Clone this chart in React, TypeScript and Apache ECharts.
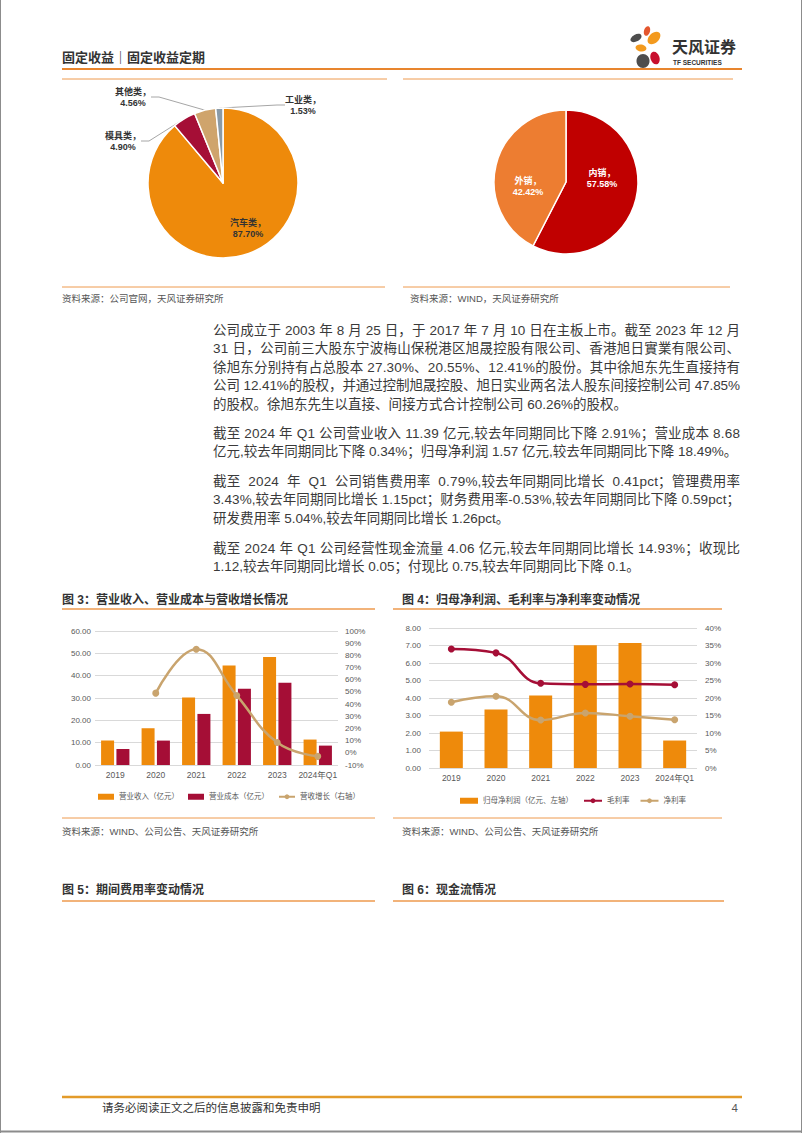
import React, { useEffect, useRef } from "react";
import * as echarts from "echarts";

const W = 802;
const H = 1133;
const FONT = '"Liberation Sans", "Noto Sans CJK SC", sans-serif';

// ---------- data ----------
const productNames = ["汽车类", "模具类", "其他类", "工业类"];
const productShares = [87.7, 4.9, 4.56, 1.53];
const regionNames = ["内销", "外销"];
const regionShares = [57.58, 42.42];

const years = ["2019", "2020", "2021", "2022", "2023", "2024年Q1"];
const revenue = [10.97, 16.46, 30.24, 44.54, 48.34, 11.39];
const cost = [7.16, 10.93, 22.87, 34.1, 36.8, 8.68];
const revenueGrowth: (number | null)[] = [null, 49, 85, 47, 8.5, -2.91];

const netProfit = [2.08, 3.35, 4.14, 7.01, 7.15, 1.57];
const grossMargin = [34.0, 32.9, 24.2, 23.9, 24.0, 23.8];
const netMargin = [18.8, 20.5, 13.7, 15.7, 14.8, 13.8];

const paragraphs: string[][] = [
  [
    "公司成立于 2003 年 8 月 25 日，于 2017 年 7 月 10 日在主板上市。截至 2023 年 12 月",
    "31 日，公司前三大股东宁波梅山保税港区旭晟控股有限公司、香港旭日實業有限公司、",
    "徐旭东分别持有占总股本 27.30%、20.55%、12.41%的股份。其中徐旭东先生直接持有",
    "公司 12.41%的股权，并通过控制旭晟控股、旭日实业两名法人股东间接控制公司 47.85%",
    "的股权。徐旭东先生以直接、间接方式合计控制公司 60.26%的股权。",
  ],
  [
    "截至 2024 年 Q1 公司营业收入 11.39 亿元,较去年同期同比下降 2.91%；营业成本 8.68",
    "亿元,较去年同期同比下降 0.34%；归母净利润 1.57 亿元,较去年同期同比下降 18.49%。",
  ],
  [
    "截至  2024  年  Q1  公司销售费用率  0.79%,较去年同期同比增长  0.41pct；管理费用率",
    "3.43%,较去年同期同比增长 1.15pct；财务费用率-0.53%,较去年同期同比下降 0.59pct；",
    "研发费用率 5.04%,较去年同期同比增长 1.26pct。",
  ],
  [
    "截至 2024 年 Q1 公司经营性现金流量 4.06 亿元,较去年同期同比增长 14.93%；收现比",
    "1.12,较去年同期同比增长 0.05；付现比 0.75,较去年同期同比下降 0.1。",
  ],
];

// ---------- colours ----------
const ORANGE = "#EE8A0B";
const CRIMSON = "#A50E36";
const TAN = "#C9A46E";
const LINE_ORANGE = "#EE9A4E";
const TEXT = "#3a3a3a";
const AXIS_TXT = "#595959";

const PARA_X = 213;
const PARA_W = 527;
const justified = new Set<string>();
paragraphs.forEach((lines) => lines.slice(0, -1).forEach((l) => justified.add(l)));

function txt(x: number, y: number, text: string, size: number, opts: any = {}) {
  return {
    type: "text",
    x,
    y,
    silent: true,
    style: {
      text,
      fill: opts.fill || TEXT,
      font: `${opts.weight || "normal"} ${size}px ${FONT}`,
      align: opts.align || "left",
      verticalAlign: "middle",
      textAlign: opts.align || "left",
      textVerticalAlign: "middle",
    },
  };
}
function hline(x1: number, x2: number, y: number, color: string, w: number) {
  return {
    type: "line",
    silent: true,
    shape: { x1, y1: y, x2, y2: y },
    style: { stroke: color, lineWidth: w },
  };
}
function petal(x: number, y: number, rx: number, ry: number, rot: number, color: string) {
  return {
    type: "ellipse",
    x,
    y,
    rotation: rot,
    silent: true,
    shape: { cx: 0, cy: 0, rx, ry },
    style: { fill: color },
  };
}

const pieLabelPos1: Record<number, [number, number]> = {
  0: [248, 228],
  1: [123, 141],
  2: [133, 97],
  3: [303, 105],
};
const pieLabelPos2: Record<number, [number, number]> = {
  0: [602, 178],
  1: [528, 186],
};

function buildGraphic() {
  const els: any[] = [];
  // page frame
  els.push({ type: "line", silent: true, shape: { x1: 0.5, y1: 0, x2: 0.5, y2: H }, style: { stroke: "#8c8c8c", lineWidth: 1 } });
  els.push({ type: "line", silent: true, shape: { x1: W - 0.5, y1: 0, x2: W - 0.5, y2: H }, style: { stroke: "#8c8c8c", lineWidth: 1 } });
  els.push(hline(0, W, H - 1.5, "#8c8c8c", 2));
  // header
  els.push(txt(62, 57, "固定收益｜固定收益定期", 13, { weight: "bold", fill: "#333" }));
  els.push(hline(62, 742, 69, "#E8852E", 2));
  // logo
  els.push(petal(647, 31, 3, 5, -0.3, "#E4572E"));
  els.push(petal(654, 38, 5, 7.5, -0.8, "#F39A1E"));
  els.push(petal(636, 38, 6, 3.5, 0.5, "#4D4D4D"));
  els.push(petal(641, 48, 5.5, 3.5, -0.2, "#F39A1E"));
  els.push(petal(643, 61, 6.5, 7, 0, "#4D4D4D"));
  els.push(petal(655, 58, 4.5, 6.5, 0.3, "#C8102E"));
  els.push(txt(672, 47, "天风证券", 16, { weight: "bold", fill: "#333" }));
  els.push(txt(673, 62, "TF SECURITIES", 6.5, { weight: "bold", fill: "#333" }));
  // section lines for pies
  els.push(hline(62, 387, 79, LINE_ORANGE, 1));
  els.push(hline(403, 733, 79, LINE_ORANGE, 1));
  els.push(hline(62, 385, 287, LINE_ORANGE, 1));
  els.push(hline(403, 730, 287, LINE_ORANGE, 1));
  els.push(txt(62, 298, "资料来源：公司官网，天风证券研究所", 9.5, { fill: "#555" }));
  els.push(txt(410, 298, "资料来源：WIND，天风证券研究所", 9.5, { fill: "#555" }));
  // paragraphs
  const starts = [330, 433, 481, 548];
  paragraphs.forEach((lines, pi) => {
    lines.forEach((line, li) => {
      els.push(txt(PARA_X, starts[pi] + li * 18.5, line, 13.5, { fill: TEXT }));
    });
  });
  // figure 3 & 4 titles
  els.push(txt(62, 600, "图 3：营业收入、营业成本与营收增长情况", 12, { weight: "bold", fill: "#333" }));
  els.push(hline(62, 375, 609, LINE_ORANGE, 1.5));
  els.push(txt(402, 600, "图 4：归母净利润、毛利率与净利率变动情况", 12, { weight: "bold", fill: "#333" }));
  els.push(hline(393, 722, 609, LINE_ORANGE, 1.5));
  els.push(hline(62, 375, 818, LINE_ORANGE, 1));
  els.push(hline(393, 722, 818, LINE_ORANGE, 1));
  els.push(txt(62, 831, "资料来源：WIND、公司公告、天风证券研究所", 9.5, { fill: "#555" }));
  els.push(txt(402, 831, "资料来源：WIND、公司公告、天风证券研究所", 9.5, { fill: "#555" }));
  // figure 5 & 6 titles
  els.push(txt(62, 890, "图 5：期间费用率变动情况", 12, { weight: "bold", fill: "#333" }));
  els.push(hline(62, 375, 901, LINE_ORANGE, 1.5));
  els.push(txt(402, 890, "图 6：现金流情况", 12, { weight: "bold", fill: "#333" }));
  els.push(hline(393, 724, 901, LINE_ORANGE, 1.5));
  // footer
  els.push(hline(62, 742, 1097, "#E39B2A", 2.5));
  els.push(txt(102, 1108, "请务必阅读正文之后的信息披露和免责申明", 11.5, { fill: "#333" }));
  els.push(txt(738, 1108, "4", 11.5, { fill: "#555", align: "right" }));
  return els;
}

const productColors = [ORANGE, CRIMSON, "#CFA46C", "#8A9AA6"];
const regionColors = ["#C00000", "#ED7D31"];

function buildOption(): any {
  const axisLabelStyle = { color: AXIS_TXT, fontSize: 8, fontFamily: FONT };
  return {
    animation: false,
    backgroundColor: "#fff",
    textStyle: { fontFamily: FONT },
    graphic: { elements: buildGraphic() },
    legend: [
      {
        left: 93,
        top: 788,
        itemWidth: 16,
        itemHeight: 6,
        itemGap: 9,
        selectedMode: false,
        textStyle: { fontSize: 7.5, color: AXIS_TXT, fontFamily: FONT },
        data: [
          { name: "营业收入（亿元）", icon: "rect" },
          { name: "营业成本（亿元）", icon: "rect" },
          { name: "营收增长（右轴）" },
        ],
      },
      {
        left: 455,
        top: 792,
        itemWidth: 18,
        itemHeight: 6,
        itemGap: 10,
        selectedMode: false,
        textStyle: { fontSize: 7.5, color: AXIS_TXT, fontFamily: FONT },
        data: [
          { name: "归母净利润（亿元、左轴）", icon: "rect" },
          { name: "毛利率" },
          { name: "净利率" },
        ],
      },
    ],
    grid: [
      { left: 95, right: W - 338, top: 631, bottom: H - 765 },
      { left: 429, right: W - 697, top: 628, bottom: H - 768 },
    ],
    xAxis: [
      {
        type: "category",
        gridIndex: 0,
        data: years,
        axisLine: { show: false },
        axisTick: { show: false },
        axisLabel: { ...axisLabelStyle, fontSize: 8.5, margin: 6, interval: 0 },
      },
      {
        type: "category",
        gridIndex: 1,
        data: years,
        axisLine: { show: false },
        axisTick: { show: false },
        axisLabel: { ...axisLabelStyle, fontSize: 8.5, margin: 6, interval: 0 },
      },
    ],
    yAxis: [
      {
        type: "value",
        gridIndex: 0,
        min: 0,
        max: 60,
        interval: 10,
        axisLine: { show: false },
        axisTick: { show: false },
        splitLine: { lineStyle: { color: "#D9D9D9", width: 1 } },
        axisLabel: { ...axisLabelStyle, margin: 4, formatter: (v: number) => v.toFixed(2) },
      },
      {
        type: "value",
        gridIndex: 0,
        min: -10,
        max: 100,
        interval: 10,
        position: "right",
        axisLine: { show: false },
        axisTick: { show: false },
        splitLine: { show: false },
        axisLabel: { ...axisLabelStyle, margin: 7, formatter: (v: number) => `${v}%` },
      },
      {
        type: "value",
        gridIndex: 1,
        min: 0,
        max: 8,
        interval: 1,
        axisLine: { show: false },
        axisTick: { show: false },
        splitLine: { lineStyle: { color: "#D9D9D9", width: 1 } },
        axisLabel: { ...axisLabelStyle, margin: 8, formatter: (v: number) => v.toFixed(2) },
      },
      {
        type: "value",
        gridIndex: 1,
        min: 0,
        max: 40,
        interval: 5,
        position: "right",
        axisLine: { show: false },
        axisTick: { show: false },
        splitLine: { show: false },
        axisLabel: { ...axisLabelStyle, margin: 8, formatter: (v: number) => `${v}%` },
      },
    ],
    series: [
      {
        type: "bar",
        name: "营业收入（亿元）",
        xAxisIndex: 0,
        yAxisIndex: 0,
        data: revenue,
        barWidth: 13,
        barGap: "18%",
        itemStyle: { color: ORANGE },
      },
      {
        type: "bar",
        name: "营业成本（亿元）",
        xAxisIndex: 0,
        yAxisIndex: 0,
        data: cost,
        barWidth: 13,
        barGap: "18%",
        itemStyle: { color: CRIMSON },
      },
      {
        type: "line",
        name: "营收增长（右轴）",
        xAxisIndex: 0,
        yAxisIndex: 1,
        data: revenueGrowth,
        smooth: 0.45,
        connectNulls: true,
        symbol: "circle",
        symbolSize: 7,
        lineStyle: { color: TAN, width: 2.5 },
        itemStyle: { color: TAN },
      },
      {
        type: "bar",
        name: "归母净利润（亿元、左轴）",
        xAxisIndex: 1,
        yAxisIndex: 2,
        data: netProfit,
        barWidth: 23,
        itemStyle: { color: ORANGE },
      },
      {
        type: "line",
        name: "毛利率",
        xAxisIndex: 1,
        yAxisIndex: 3,
        data: grossMargin,
        smooth: 0.45,
        symbol: "circle",
        symbolSize: 7,
        lineStyle: { color: CRIMSON, width: 2.5 },
        itemStyle: { color: CRIMSON },
      },
      {
        type: "line",
        name: "净利率",
        xAxisIndex: 1,
        yAxisIndex: 3,
        data: netMargin,
        smooth: 0.45,
        symbol: "circle",
        symbolSize: 7,
        lineStyle: { color: TAN, width: 2.5 },
        itemStyle: { color: TAN },
      },
      {
        type: "pie",
        center: [223, 183],
        radius: 75,
        startAngle: 90,
        clockwise: true,
        avoidLabelOverlap: false,
        itemStyle: { borderColor: "#fff", borderWidth: 1.5 },
        label: {
          show: true,
          position: "outside",
          fontSize: 9,
          fontWeight: "bold",
          lineHeight: 11,
          color: "#333",
          align: "center",
          fontFamily: FONT,
          formatter: (p: any) => `${p.name}，\n${Number(p.value).toFixed(2)}%`,
        },
        labelLine: { show: true, length: 8, length2: 8, lineStyle: { color: "#A6A6A6", width: 1 } },
        labelLayout: (p: any) => {
          const pos = pieLabelPos1[p.dataIndex];
          return pos ? { x: pos[0], y: pos[1], align: "center", verticalAlign: "middle" } : {};
        },
        data: productNames.map((n, i) => ({
          name: n,
          value: productShares[i],
          itemStyle: { color: productColors[i] },
          label: i === 0 ? { position: "inside" } : undefined,
          labelLine: i === 0 ? { show: false } : undefined,
        })),
      },
      {
        type: "pie",
        center: [566, 182],
        radius: 72,
        startAngle: 90,
        clockwise: true,
        avoidLabelOverlap: false,
        itemStyle: { borderColor: "#fff", borderWidth: 1.5 },
        label: {
          show: true,
          position: "inside",
          fontSize: 9,
          fontWeight: "bold",
          lineHeight: 11,
          color: "#fff",
          align: "center",
          fontFamily: FONT,
          formatter: (p: any) => `${p.name}，\n${Number(p.value).toFixed(2)}%`,
        },
        labelLine: { show: false },
        labelLayout: (p: any) => {
          const pos = pieLabelPos2[p.dataIndex];
          return pos ? { x: pos[0], y: pos[1], align: "center", verticalAlign: "middle" } : {};
        },
        data: regionNames.map((n, i) => ({
          name: n,
          value: regionShares[i],
          itemStyle: { color: regionColors[i] },
        })),
      },
    ],
  };
}

function justifyParagraphs(root: HTMLElement) {
  const nodes = root.querySelectorAll("text");
  nodes.forEach((node) => {
    const content = node.textContent || "";
    if (justified.has(content)) {
      node.setAttribute("textLength", String(PARA_W));
      node.setAttribute("lengthAdjust", "spacing");
    }
  });
}

export default function App() {
  const ref = useRef<HTMLDivElement>(null);
  useEffect(() => {
    const el = ref.current;
    if (!el) return;
    const chart = echarts.init(el, null, { renderer: "svg", width: W, height: H });
    chart.setOption(buildOption());
    justifyParagraphs(el);
    const onFinished = () => justifyParagraphs(el);
    chart.on("finished", onFinished);
    const t = window.setTimeout(() => justifyParagraphs(el), 0);
    return () => {
      window.clearTimeout(t);
      chart.off("finished", onFinished);
      chart.dispose();
    };
  }, []);
  return (
    <div
      ref={ref}
      style={{ position: "absolute", left: 0, top: 0, width: W, height: H, background: "#fff" }}
    />
  );
}
